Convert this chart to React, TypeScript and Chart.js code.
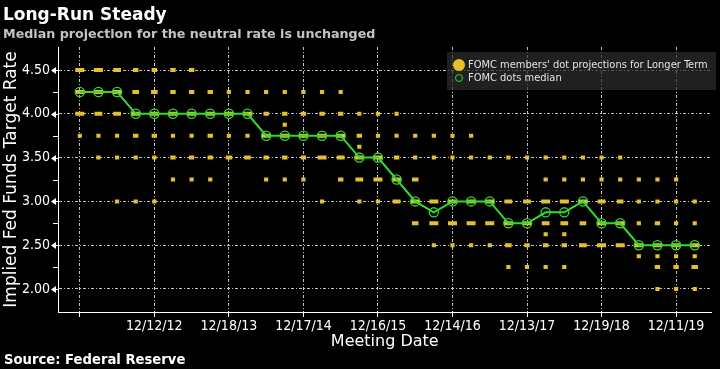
import React, { useEffect, useRef } from 'react';
import { Chart, registerables } from 'chart.js';

Chart.register(...registerables);

// Meeting dates (FOMC SEP meetings), x categories
const meetingDates = [
  '1/25/12', '4/25/12', '6/20/12', '9/13/12', '12/12/12',
  '3/20/13', '6/19/13', '9/18/13', '12/18/13',
  '3/19/14', '6/18/14', '9/17/14', '12/17/14',
  '3/18/15', '6/17/15', '9/17/15', '12/16/15',
  '3/16/16', '6/15/16', '9/21/16', '12/14/16',
  '3/15/17', '6/14/17', '9/20/17', '12/13/17',
  '3/21/18', '6/13/18', '9/26/18', '12/19/18',
  '3/20/19', '6/19/19', '9/18/19', '12/11/19',
  '6/10/20',
];

// Median longer-run projection per meeting
const medianRates = [
  4.25, 4.25, 4.25, 4.0, 4.0, 4.0, 4.0, 4.0, 4.0, 4.0,
  3.75, 3.75, 3.75, 3.75, 3.75, 3.5, 3.5, 3.25, 3.0, 2.875,
  3.0, 3.0, 3.0, 2.75, 2.75, 2.875, 2.875, 3.0, 2.75, 2.75,
  2.5, 2.5, 2.5, 2.5,
];

// Number of participants' dots at each rate level, per meeting
const rateLevels = [4.5, 4.25, 4.0, 3.875, 3.75, 3.625, 3.5, 3.25, 3.0, 2.75, 2.625, 2.5, 2.375, 2.25, 2.0];
const dots450 = [5, 5, 4, 2, 2, 2, 2, 0, 0, 0, 0, 0, 0, 0, 0, 0, 0, 0, 0, 0, 0, 0, 0, 0, 0, 0, 0, 0, 0, 0, 0, 0, 0, 0];
const dots425 = [6, 6, 6, 3, 3, 2, 2, 2, 1, 1, 1, 1, 1, 1, 1, 0, 0, 0, 0, 0, 0, 0, 0, 0, 0, 0, 0, 0, 0, 0, 0, 0, 0, 0];
const dots400 = [5, 4, 4, 8, 8, 9, 9, 10, 12, 11, 2, 2, 2, 2, 2, 1, 1, 1, 0, 0, 0, 0, 0, 0, 0, 0, 0, 0, 0, 0, 0, 0, 0, 0];
const dots3875 = [0, 0, 0, 0, 0, 0, 0, 0, 0, 0, 0, 1, 0, 0, 0, 0, 0, 0, 0, 0, 0, 0, 0, 0, 0, 0, 0, 0, 0, 0, 0, 0, 0, 0];
const dots375 = [1, 1, 1, 2, 2, 1, 1, 2, 1, 1, 10, 10, 11, 8, 8, 2, 1, 1, 1, 1, 1, 1, 0, 0, 0, 0, 0, 0, 0, 0, 0, 0, 0, 0];
const dots3625 = [0, 0, 0, 0, 0, 0, 0, 0, 0, 0, 0, 0, 0, 0, 0, 1, 0, 0, 0, 0, 0, 0, 0, 0, 0, 0, 0, 0, 0, 0, 0, 0, 0, 0];
const dots350 = [0, 1, 1, 1, 1, 2, 2, 2, 3, 3, 2, 2, 2, 5, 4, 8, 9, 2, 1, 1, 1, 1, 1, 1, 1, 1, 1, 1, 1, 1, 0, 0, 0, 0];
const dots325 = [0, 0, 0, 0, 0, 1, 1, 1, 0, 0, 1, 1, 1, 0, 2, 4, 5, 9, 3, 0, 0, 0, 0, 0, 0, 1, 1, 1, 1, 1, 1, 1, 1, 0];
const dots300 = [0, 0, 1, 1, 1, 0, 0, 0, 0, 0, 0, 0, 0, 1, 0, 1, 1, 4, 9, 6, 8, 8, 8, 4, 4, 6, 6, 8, 4, 3, 1, 1, 1, 1];
const dots275 = [0, 0, 0, 0, 0, 0, 0, 0, 0, 0, 0, 0, 0, 0, 0, 0, 0, 0, 3, 7, 6, 6, 5, 7, 8, 4, 4, 3, 6, 6, 1, 2, 1, 1];
const dots2625 = [0, 0, 0, 0, 0, 0, 0, 0, 0, 0, 0, 0, 0, 0, 0, 0, 0, 0, 0, 0, 0, 0, 0, 0, 0, 1, 1, 0, 0, 0, 0, 0, 0, 0];
const dots250 = [0, 0, 0, 0, 0, 0, 0, 0, 0, 0, 0, 0, 0, 0, 0, 0, 0, 0, 0, 1, 1, 1, 1, 3, 2, 2, 2, 4, 5, 6, 13, 9, 9, 9];
const dots2375 = [0, 0, 0, 0, 0, 0, 0, 0, 0, 0, 0, 0, 0, 0, 0, 0, 0, 0, 0, 0, 0, 0, 0, 0, 0, 0, 0, 0, 0, 0, 1, 1, 1, 1];
const dots225 = [0, 0, 0, 0, 0, 0, 0, 0, 0, 0, 0, 0, 0, 0, 0, 0, 0, 0, 0, 0, 0, 0, 0, 1, 1, 1, 1, 0, 0, 0, 0, 2, 2, 3];
const dots200 = [0, 0, 0, 0, 0, 0, 0, 0, 0, 0, 0, 0, 0, 0, 0, 0, 0, 0, 0, 0, 0, 0, 0, 0, 0, 0, 0, 0, 0, 0, 0, 1, 1, 1];

const dotCountsByLevel = [
  dots450, dots425, dots400, dots3875, dots375, dots3625, dots350, dots325,
  dots300, dots275, dots2625, dots250, dots2375, dots225, dots200,
];

const yTickValues = [2.0, 2.25, 2.5, 2.75, 3.0, 3.25, 3.5, 3.75, 4.0, 4.25, 4.5];
const xTickIndices = [0, 4, 8, 12, 16, 20, 24, 28, 32];

const YELLOW = '#e4c12a';
const GREEN = '#33d933';
const GRID = '#c4c4c4';
const GRID_DASH = [3, 2, 1, 2];
const FONT = "'DejaVu Sans Condensed', 'DejaVu Sans', sans-serif";
const TITLE_FONT = "'DejaVu Sans', sans-serif";
const BOLD = "'DejaVu Sans', sans-serif";

const isMajor = (v: number) => Math.abs(v * 2 - Math.round(v * 2)) < 1e-6;
const dotHalfWidth = (n: number) => 2.1 + (Math.min(n, 5) - 1) * 0.6;

const yTickMarks = {
  id: 'yTickMarks',
  afterDraw(chart: any) {
    const ys = chart.scales.y;
    const ctx = chart.ctx;
    const x0 = chart.chartArea.left;
    ctx.save();
    ctx.fillStyle = '#ffffff';
    ctx.strokeStyle = '#ffffff';
    ctx.lineWidth = 1;
    ctx.setLineDash([]);
    ys.ticks.forEach((t: any) => {
      const y = Math.round(ys.getPixelForValue(t.value)) + 0.5;
      if (isMajor(t.value)) {
        ctx.beginPath();
        ctx.moveTo(x0 - 7, y);
        ctx.lineTo(x0 - 2, y - 3.5);
        ctx.lineTo(x0 - 2, y + 3.5);
        ctx.closePath();
        ctx.fill();
        ctx.beginPath();
        ctx.moveTo(x0 - 2, y);
        ctx.lineTo(x0, y);
        ctx.stroke();
      } else {
        ctx.beginPath();
        ctx.moveTo(x0 - 5, y);
        ctx.lineTo(x0, y);
        ctx.stroke();
      }
    });
    ctx.restore();
  },
};

export default function App() {
  const canvasRef = useRef<HTMLCanvasElement | null>(null);

  useEffect(() => {
    const canvas = canvasRef.current;
    if (!canvas) return;

    const dotPoints: { x: number; y: number; n: number }[] = [];
    rateLevels.forEach((rate, li) => {
      dotCountsByLevel[li].forEach((n, i) => {
        if (n > 0) dotPoints.push({ x: i, y: rate, n });
      });
    });
    const medianPoints = medianRates.map((v, i) => ({ x: i, y: v }));

    const chart = new Chart(canvas, {
      type: 'scatter',
      data: {
        datasets: [
          {
            type: 'line',
            label: 'FOMC dots median',
            data: medianPoints,
            borderColor: GREEN,
            borderWidth: 2,
            pointStyle: 'circle',
            pointRadius: 4.6,
            pointBorderWidth: 1.3,
            pointBorderColor: GREEN,
            pointBackgroundColor: 'rgba(0,0,0,0)',
            tension: 0,
            order: 0,
          } as any,
          {
            type: 'scatter',
            label: "FOMC members' dot projections for Longer Term",
            data: dotPoints,
            showLine: false,
            pointStyle: 'line',
            pointRadius: (c: any) => dotHalfWidth(c.raw ? c.raw.n : 1),
            pointBorderWidth: 4,
            pointBorderColor: YELLOW,
            pointBackgroundColor: YELLOW,
            order: 1,
          } as any,
        ],
      },
      options: {
        responsive: false,
        animation: false,
        events: [],
        layout: { padding: { top: 47, right: 2, bottom: 18, left: 0 } },
        plugins: {
          legend: { display: false },
          tooltip: { enabled: false },
          title: { display: false },
        },
        scales: {
          x: {
            type: 'linear',
            min: -1.17,
            max: 33.9,
            afterFit: (s: any) => { s.height = 39; },
            afterBuildTicks: (s: any) => { s.ticks = xTickIndices.map((v) => ({ value: v })); },
            border: { display: true, color: '#ffffff', width: 1, dash: GRID_DASH },
            grid: {
              color: GRID,
              lineWidth: 1,
              drawTicks: true,
              tickLength: 5,
              tickColor: '#ffffff',
              tickBorderDash: [],
            } as any,
            ticks: {
              autoSkip: false,
              maxRotation: 0,
              padding: 1,
              color: '#ffffff',
              font: { family: FONT, size: 14 },
              callback: (v: any) => (v === 0 ? '' : meetingDates[v] ?? ''),
            },
            title: {
              display: true,
              text: 'Meeting Date',
              color: '#ffffff',
              font: { family: TITLE_FONT, size: 16 },
              padding: { top: 0, bottom: 0 },
            },
          },
          y: {
            type: 'linear',
            min: 1.737,
            max: 4.763,
            afterFit: (s: any) => { s.width = 58; },
            afterBuildTicks: (s: any) => { s.ticks = yTickValues.map((v) => ({ value: v })); },
            border: { display: true, color: '#ffffff', width: 1, dash: GRID_DASH },
            grid: {
              color: (c: any) => (c.tick && isMajor(c.tick.value) ? GRID : 'rgba(0,0,0,0)'),
              lineWidth: 1,
              drawTicks: true,
              tickLength: 7,
              tickColor: 'rgba(0,0,0,0)',
            } as any,
            ticks: {
              autoSkip: false,
              padding: 1,
              color: '#ffffff',
              font: { family: FONT, size: 14 },
              callback: (v: any) => (isMajor(v) ? Number(v).toFixed(2) : ''),
            },
            title: {
              display: true,
              text: 'Implied Fed Funds Target Rate',
              color: '#ffffff',
              font: { family: TITLE_FONT, size: 17 },
              padding: { top: 1, bottom: 0 },
            },
          },
        },
      } as any,
      plugins: [yTickMarks],
    });

    return () => chart.destroy();
  }, []);

  const textBase: React.CSSProperties = { position: 'absolute', whiteSpace: 'nowrap', margin: 0 };

  return (
    <div style={{ position: 'absolute', left: 0, top: 0, width: 720, height: 369, background: '#000', overflow: 'hidden' }}>
      <canvas ref={canvasRef} width={720} height={369} style={{ position: 'absolute', left: 0, top: 0, width: 720, height: 369, display: 'block' }} />
      <div style={{ ...textBase, left: 3, top: 6, fontFamily: BOLD, fontWeight: 'bold', fontSize: 17, lineHeight: '17px', color: '#ffffff' }}>
        Long-Run Steady
      </div>
      <div style={{ ...textBase, left: 3, top: 27, fontFamily: BOLD, fontWeight: 'bold', fontSize: 12.7, lineHeight: '13px', color: '#c4c4c4' }}>
        Median projection for the neutral rate is unchanged
      </div>
      <div style={{ ...textBase, left: 4, top: 353, fontFamily: BOLD, fontWeight: 'bold', fontSize: 13.2, lineHeight: '13px', color: '#ffffff' }}>
        Source: Federal Reserve
      </div>
      <div style={{ position: 'absolute', left: 447, top: 52, width: 269, height: 38, background: 'rgba(44,44,44,0.72)' }}>
        <div style={{ position: 'absolute', left: 6, top: 7, width: 12, height: 12, borderRadius: '50%', background: YELLOW }} />
        <div style={{ ...textBase, left: 21, top: 6, fontFamily: FONT, fontSize: 11, lineHeight: '14px', color: '#e2e2e2' }}>
          FOMC members' dot projections for Longer Term
        </div>
        <div style={{ position: 'absolute', left: 8, top: 22, width: 6, height: 6, borderRadius: '50%', border: `1.5px solid ${GREEN}` }} />
        <div style={{ ...textBase, left: 21, top: 19, fontFamily: FONT, fontSize: 11, lineHeight: '14px', color: '#e2e2e2' }}>
          FOMC dots median
        </div>
      </div>
    </div>
  );
}
